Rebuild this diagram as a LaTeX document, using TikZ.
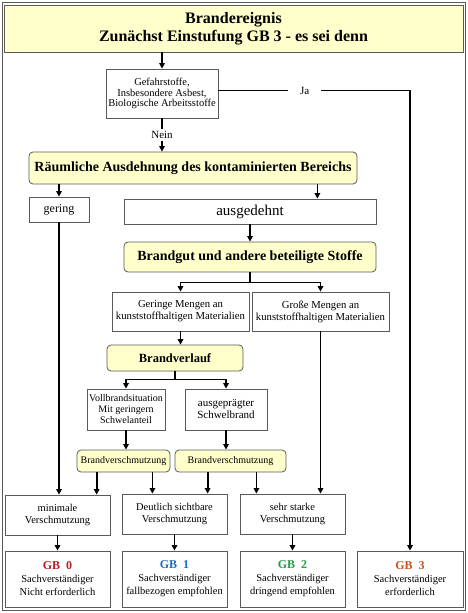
\documentclass[tikz,border=0pt]{standalone}
\usepackage{fontspec}
\setmainfont{Liberation Serif}
\usetikzlibrary{arrows.meta}
\definecolor{boxyellow}{RGB}{255,255,204}
\definecolor{boxline}{RGB}{90,90,90}
\definecolor{gbred}{RGB}{178,30,36}
\definecolor{gbblue}{RGB}{30,110,192}
\definecolor{gbgreen}{RGB}{30,160,70}
\definecolor{gborange}{RGB}{200,82,30}
\newcommand{\fs}[2]{\fontsize{#1}{#2}\selectfont}
\tikzset{
  box/.style={draw=boxline, line width=0.8pt, fill=white, align=center, inner sep=1pt, font=\fs{10.5}{12}},
  rbox/.style={box, fill=boxyellow, rounded corners=4pt, font=\bfseries\fs{14}{16}},
  arr/.style={line width=1.8pt, -{Triangle[length=5.5pt,width=5.5pt]}},
  lbl/.style={fill=white, inner sep=2pt, font=\fs{11}{12}}
}
\begin{document}
\begin{tikzpicture}[x=1pt,y=-1pt]
\useasboundingbox (0,0) rectangle (467,613);
\draw [boxline, line width=1pt] (2,2) rectangle (465,610);
\node [box, fill=boxyellow, minimum width=459pt, minimum height=47pt, font=\bfseries\fs{16}{18}] (title) at (233.5,28.5) {Brandereignis\\Zunächst Einstufung GB 3 - es sei denn};
\node [box, minimum width=112pt, minimum height=49pt, font=\fs{10.5}{10.5}] (gefahr) at (162,93.5) {Gefahrstoffe,\\Insbesondere Asbest,\\Biologische Arbeitsstoffe};
\node [rbox, minimum width=328pt, minimum height=32pt] (raeum) at (193,168) {Räumliche Ausdehnung des kontaminierten Bereichs};
\node [box, minimum width=60pt, minimum height=25pt, font=\fs{12}{14}] (gering) at (59,209.5) {gering};
\node [box, minimum width=252pt, minimum height=25pt, font=\fs{15}{16}] (ausg) at (250,211.5) {ausgedehnt};
\node [rbox, minimum width=252pt, minimum height=30pt] (brandgut) at (250,257) {Brandgut und andere beteiligte Stoffe};
\node [box, minimum width=137pt, minimum height=39pt, font=\fs{10.7}{12}] (geringe) at (180.5,311.5) {Geringe Mengen an\\kunststoffhaltigen Materialien};
\node [box, minimum width=137pt, minimum height=39pt, font=\fs{10.7}{12}] (grosse) at (320.5,311.5) {Große Mengen an\\kunststoffhaltigen Materialien};
\node [rbox, minimum width=136pt, minimum height=26pt, font=\bfseries\fs{12.5}{14}] (verlauf) at (175,358) {Brandverlauf};
\node [box, minimum width=78pt, minimum height=41pt, font=\fs{10}{11}] (voll) at (126,409.5) {Vollbrandsituation\\Mit geringern\\Schwelanteil};
\node [box, minimum width=82pt, minimum height=41pt, font=\fs{11}{12}] (ausgep) at (226,409.5) {ausgeprägter\\Schwelbrand};
\node [rbox, minimum width=93pt, minimum height=22pt, font=\fs{10}{12}] (bvs1) at (123.5,461) {Brandverschmutzung};
\node [rbox, minimum width=111pt, minimum height=22pt, font=\fs{10}{12}] (bvs2) at (230.5,461) {Brandverschmutzung};
\node [box, minimum width=105pt, minimum height=40pt] (minimal) at (57.5,515) {minimale\\Verschmutzung};
\node [box, minimum width=105pt, minimum height=40pt] (deutlich) at (174.5,514) {Deutlich sichtbare\\Verschmutzung};
\node [box, minimum width=105pt, minimum height=40pt] (stark) at (292.5,514) {sehr starke\\Verschmutzung};
\node [box, minimum width=105pt, minimum height=56pt, font=\fs{10.5}{13}] (gb0) at (57.5,579) {\textcolor{gbred}{\bfseries\fs{12}{13}GB\ \ 0}\\Sachverständiger\\Nicht erforderlich};
\node [box, minimum width=105pt, minimum height=56pt, font=\fs{10.5}{13}] (gb1) at (174.5,579) {\textcolor{gbblue}{\bfseries\fs{12}{13}GB\ \ 1}\\Sachverständiger\\fallbezogen empfohlen};
\node [box, minimum width=105pt, minimum height=56pt, font=\fs{10.5}{13}] (gb2) at (292.5,579) {\textcolor{gbgreen}{\bfseries\fs{12}{13}GB\ \ 2}\\Sachverständiger\\dringend empfohlen};
\node [box, minimum width=106pt, minimum height=56pt, font=\fs{10.5}{13}] (gb3) at (410,579) {\textcolor{gborange}{\bfseries\fs{12}{13}GB\ \ 3}\\Sachverständiger\\erforderlich};
\draw [arr] (gefahr.north |- title.south) -- (gefahr.north);
\draw [arr] (gefahr.south) -- node [lbl] {Nein} (gefahr.south |- raeum.north);
\draw [arr] ([yshift=3pt]gefahr.east) -- node [lbl, pos=0.45, inner xsep=12pt] {Ja} ([yshift=3pt]gefahr.east -| gb3.north) -- (gb3.north);
\draw [arr] (gering.north |- raeum.south) -- (gering.north);
\draw [arr] ([xshift=-40pt]raeum.south east) -- ([xshift=-40pt]raeum.south east |- ausg.north);
\draw [arr] (ausg.south) -- (brandgut.north);
\draw [arr] (brandgut.south) -- ++(0,10) -| (geringe.north);
\draw [arr] (brandgut.south) -- ++(0,10) -| (grosse.north);
\draw [arr] (geringe.south) -- (geringe.south |- verlauf.north);
\draw [arr] (verlauf.south) -- ++(0,8) -| (voll.north);
\draw [arr] (verlauf.south) -- ++(0,8) -| (ausgep.north);
\draw [arr] (voll.south) -- (voll.south |- bvs1.north);
\draw [arr] (ausgep.south) -- (ausgep.south |- bvs2.north);
\draw [arr] ([xshift=20pt]bvs1.south west) -- ([xshift=20pt]bvs1.south west |- minimal.north);
\draw [arr] ([xshift=-18pt]bvs1.south east) -- ([xshift=-18pt]bvs1.south east |- deutlich.north);
\draw [arr] ([xshift=33pt]bvs2.south west) -- ([xshift=33pt]bvs2.south west |- deutlich.north);
\draw [arr] ([xshift=-30pt]bvs2.south east) -- ([xshift=-30pt]bvs2.south east |- stark.north);
\draw [arr] (gering.south) -- (gering.south |- minimal.north);
\draw [arr] (grosse.south) -- (grosse.south |- stark.north);
\draw [arr] (minimal.south) -- (gb0.north);
\draw [arr] (deutlich.south) -- (gb1.north);
\draw [arr] (stark.south) -- (gb2.north);
\end{tikzpicture}
\end{document}
